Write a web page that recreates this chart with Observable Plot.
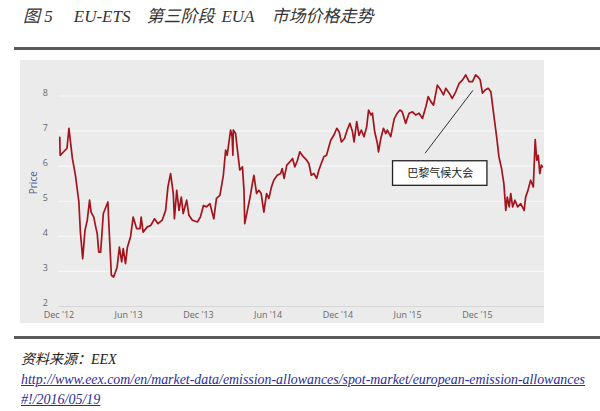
<!DOCTYPE html>
<html><head><meta charset="utf-8">
<script src="https://cdn.jsdelivr.net/npm/d3@7"></script>
<script src="https://cdn.jsdelivr.net/npm/@observablehq/plot@0.6"></script>
<style>
html,body{margin:0;padding:0;background:#fff;}
body{width:600px;height:411px;position:relative;overflow:hidden;font-family:"Liberation Serif","Noto Sans CJK SC",serif;}
#title{position:absolute;left:23px;top:5px;font-style:italic;font-size:17px;color:#333;white-space:pre;line-height:24px;}
#title span{display:inline-block;}
.rule{position:absolute;left:14px;width:586px;height:3px;background:#5a5a5a;}
#chart{position:absolute;left:20px;top:60px;}
.src{position:absolute;left:21px;font-style:italic;white-space:pre;line-height:18px;}
#s1{top:351px;font-size:14px;color:#222;}
#s2{top:371px;font-size:13.9px;color:#2b2b9a;text-decoration:underline;}
#s3{top:391px;font-size:14px;color:#2b2b9a;text-decoration:underline;}
</style></head>
<body>
<div id="title"><span>图 5</span><span style="margin-left:21px">EU-ETS</span><span style="margin-left:16px">第三阶段</span><span style="margin-left:7px">EUA</span><span style="margin-left:17px">市场价格走势</span></div>
<div class="rule" style="top:47px"></div>
<div id="chart"></div>
<div class="rule" style="top:336px"></div>
<div class="src" id="s1">资料来源：EEX</div>
<div class="src" id="s2">http://www.eex.com/en/market-data/emission-allowances/spot-market/european-emission-allowances</div>
<div class="src" id="s3">#!/2016/05/19</div>
<script>
const dates = [
"2012-12-03","2012-12-04","2012-12-22","2012-12-27","2013-01-05","2013-01-13","2013-01-22","2013-01-26","2013-02-01","2013-02-07",
"2013-02-13","2013-02-19","2013-02-23","2013-03-02","2013-03-07","2013-03-11","2013-03-15","2013-03-20","2013-03-27","2013-04-08",
"2013-04-10","2013-04-17","2013-04-23","2013-05-02","2013-05-08","2013-05-14","2013-05-18","2013-05-24","2013-05-29","2013-06-06",
"2013-06-13","2013-06-22","2013-07-01","2013-07-04","2013-07-09","2013-07-20","2013-07-29","2013-08-08","2013-08-17","2013-08-28",
"2013-09-06","2013-09-12","2013-09-19","2013-09-26","2013-09-29","2013-10-05","2013-10-11","2013-10-17","2013-10-22","2013-10-31",
"2013-11-06","2013-11-15","2013-11-28","2013-12-06","2013-12-14","2013-12-22","2013-12-31","2014-01-10","2014-01-17","2014-01-26",
"2014-02-04","2014-02-10","2014-02-14","2014-02-23","2014-02-27","2014-03-01","2014-03-02","2014-03-08","2014-03-14","2014-03-19",
"2014-03-26","2014-03-30","2014-04-01","2014-04-08","2014-04-15","2014-04-21","2014-04-25","2014-05-02","2014-05-08","2014-05-14",
"2014-05-21","2014-05-28","2014-06-03","2014-06-10","2014-06-16","2014-06-25","2014-07-04","2014-07-08","2014-07-13","2014-07-20",
"2014-07-28","2014-08-04","2014-08-10","2014-08-17","2014-08-23","2014-09-01","2014-09-10","2014-09-16","2014-09-22","2014-09-29",
"2014-10-06","2014-10-12","2014-10-18","2014-10-25","2014-11-01","2014-11-07","2014-11-12","2014-11-20","2014-11-28","2014-12-04",
"2014-12-10","2014-12-18","2014-12-25","2015-01-01","2015-01-08","2015-01-12","2015-01-19","2015-01-25","2015-01-31","2015-02-07",
"2015-02-14","2015-02-19","2015-02-25","2015-03-01","2015-03-07","2015-03-14","2015-03-17","2015-03-23","2015-03-30","2015-04-05",
"2015-04-09","2015-04-18","2015-04-27","2015-05-05","2015-05-12","2015-05-18","2015-05-27","2015-06-05","2015-06-14","2015-06-22",
"2015-07-01","2015-07-10","2015-07-19","2015-07-25","2015-08-01","2015-08-08","2015-08-18","2015-08-27","2015-09-03","2015-09-09",
"2015-09-18","2015-09-26","2015-10-05","2015-10-14","2015-10-23","2015-10-31","2015-11-09","2015-11-18","2015-11-26","2015-12-02",
"2015-12-08","2015-12-14","2015-12-21","2015-12-29","2016-01-05","2016-01-12","2016-01-20","2016-01-26","2016-02-02","2016-02-08",
"2016-02-13","2016-02-17","2016-02-22","2016-02-26","2016-03-02","2016-03-08","2016-03-15","2016-03-23","2016-04-01","2016-04-05",
"2016-04-11","2016-04-18","2016-04-25","2016-04-30","2016-05-04","2016-05-08","2016-05-12","2016-05-16","2016-05-19"
];
const prices = [
6.82,6.31,6.51,7.08,6.22,5.74,4.98,4.12,3.36,4.17,
4.46,5.03,4.69,4.55,4.27,4.08,3.55,3.55,4.65,4.98,
4.46,2.89,2.84,3.12,3.69,3.27,3.65,3.22,3.69,3.98,
4.55,4.22,4.22,4.55,4.12,4.27,4.31,4.50,4.36,4.46,
4.74,5.41,5.79,5.22,4.50,5.31,4.74,5.12,4.65,5.03,
4.60,4.46,4.41,4.55,4.88,4.84,4.93,4.50,5.08,5.17,
5.74,6.46,6.31,7.03,6.84,6.31,7.03,6.93,6.36,5.89,
5.98,5.31,4.36,4.74,5.12,5.51,5.74,5.22,5.31,5.22,
4.69,5.22,5.08,5.41,5.60,5.74,5.79,5.93,5.65,6.03,
6.12,6.22,5.98,6.17,6.41,6.27,6.17,6.07,5.74,5.79,
5.65,5.89,6.07,6.27,6.31,6.55,6.74,6.88,7.08,6.98,
6.69,6.79,7.03,7.22,6.98,6.69,7.27,6.88,7.03,6.84,
7.12,7.60,7.46,7.51,6.98,6.65,6.41,6.79,7.08,6.93,
7.03,6.84,7.35,7.51,7.60,7.55,7.22,7.51,7.55,7.46,
7.51,7.36,7.70,7.98,7.84,7.74,8.31,8.17,8.03,8.22,
8.08,7.93,8.12,8.36,8.46,8.60,8.41,8.41,8.60,8.55,
8.46,8.08,8.17,8.22,8.12,7.51,6.84,6.27,5.93,5.50,
4.74,5.12,4.84,5.22,4.84,5.03,4.84,4.93,4.74,5.12,
5.31,5.60,5.41,6.76,6.17,6.31,5.79,6.03,5.98
];
const yTicks = [2,3,4,5,6,7,8];
const xTickDates = ["2012-12-01","2013-06-01","2013-12-01","2014-06-01","2014-12-01","2015-06-01","2015-12-01"];
const xTickLabels = ["Dec '12","Jun '13","Dec '13","Jun '14","Dec '14","Jun '15","Dec '15"];
const gridRange = ["2012-11-30","2016-05-25"];
const yLabel = "Price";
const yLabelValue = 5.2;
const annoText = "巴黎气候大会";
const annoBox = {x1:"2015-04-24", x2:"2015-12-27", y1:5.44, y2:6.14};
const annoLine = {x1:"2015-07-17", y1:6.37, x2:"2015-11-19", y2:8.16};

const P = s => new Date(s + "T00:00:00Z");
const data = dates.map((d,i) => ({date: P(d), price: prices[i]}));
const xTicks = xTickDates.map(P);
const fmt = new Map(xTicks.map((d,i)=>[+d, xTickLabels[i]]));
const gx1 = P(gridRange[0]), gx2 = P(gridRange[1]);

const chart = Plot.plot({
  width: 524, height: 263,
  marginTop: 35.5, marginBottom: 17, marginLeft: 38.5, marginRight: 67,
  style: {background: "#ebebeb", fontFamily: "'Open Sans','Liberation Sans',sans-serif", overflow: "visible"},
  x: {type: "utc", domain: [P("2012-12-01"), P("2015-12-01")], range: [38.5, 457]},
  y: {domain: [2, 8]},
  marks: [
    Plot.ruleY(yTicks.filter(v => v > 2), {x1: gx1, x2: gx2, stroke: "#f7f7f7", strokeWidth: 1.2}),
    Plot.ruleY([2], {x1: gx1, x2: gx2, stroke: "#d6d6d6", strokeWidth: 1}),
    Plot.axisY(yTicks, {tickSize: 0, tickPadding: 11, dy: -3, fontSize: 9, fill: "#6a6a6a", label: null}),
    Plot.axisX(xTicks, {tickSize: 0, tickPadding: 5, fontSize: 9, fill: "#6a6a6a", label: null, tickFormat: d => fmt.get(+d)}),
    Plot.text([yLabel], {frameAnchor: "left", y: [yLabelValue], rotate: -90, dx: -25.5, fontSize: 10, fill: "#4e5c8c", text: d => d}),
    Plot.line(data, {x: "date", y: "price", stroke: "#a3141d", strokeWidth: 1.7, strokeLinejoin: "round"}),
    Plot.link([annoLine], {x1: d => P(d.x1), y1: "y1", x2: d => P(d.x2), y2: "y2", stroke: "#333", strokeWidth: 1}),
    Plot.rect([annoBox], {x1: d => P(d.x1), x2: d => P(d.x2), y1: "y1", y2: "y2", fill: "#fff", stroke: "#222", strokeWidth: 1.3}),
    Plot.text([annoText], {x: [new Date((P(annoBox.x1).getTime()+P(annoBox.x2).getTime())/2)], y: [(annoBox.y1+annoBox.y2)/2], text: d => d, fontSize: 11, fill: "#222", fontFamily: "'Noto Sans CJK SC',sans-serif"})
  ]
});
document.getElementById("chart").appendChild(chart);
</script>
</body></html>
